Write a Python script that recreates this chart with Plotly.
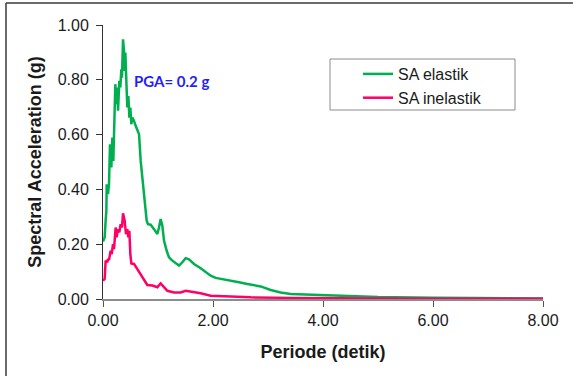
import plotly.graph_objects as go

# Periods (s) and spectral accelerations (g)
period_elastic = [0.000, 0.030, 0.048, 0.061, 0.067, 0.091, 0.109, 0.127, 0.152, 0.170, 0.188, 0.206,
                  0.224, 0.242, 0.261, 0.273, 0.297, 0.315, 0.333, 0.345, 0.364, 0.382, 0.394, 0.406,
                  0.424, 0.442, 0.461, 0.479, 0.497, 0.515, 0.533, 0.564, 0.594, 0.655, 0.685, 0.715,
                  0.745, 0.794, 0.818, 0.867, 0.927, 0.988, 1.018, 1.048, 1.079, 1.109, 1.158, 1.200,
                  1.261, 1.321, 1.382, 1.442, 1.503, 1.564, 1.655, 1.776, 1.867, 1.958, 2.048, 2.170,
                  2.321, 2.473, 2.624, 2.867, 3.048, 3.230, 3.412, 3.800, 4.000, 4.500, 5.000, 6.000,
                  7.000, 8.000]
sa_elastic = [0.210, 0.225, 0.286, 0.322, 0.419, 0.383, 0.419, 0.565, 0.480, 0.589, 0.504, 0.650,
              0.784, 0.711, 0.772, 0.687, 0.796, 0.772, 0.838, 0.808, 0.948, 0.905, 0.832, 0.899,
              0.772, 0.699, 0.741, 0.662, 0.699, 0.638, 0.662, 0.650, 0.632, 0.601, 0.504, 0.444,
              0.358, 0.286, 0.273, 0.271, 0.255, 0.237, 0.261, 0.292, 0.267, 0.213, 0.176, 0.152,
              0.140, 0.130, 0.122, 0.134, 0.149, 0.145, 0.128, 0.112, 0.097, 0.085, 0.077, 0.073,
              0.067, 0.061, 0.055, 0.046, 0.033, 0.024, 0.018, 0.015, 0.013, 0.010, 0.007, 0.005,
              0.003, 0.002]

period_inelastic = [0.000, 0.030, 0.048, 0.079, 0.091, 0.109, 0.139, 0.158, 0.182, 0.200, 0.230, 0.248,
                    0.273, 0.297, 0.321, 0.345, 0.364, 0.394, 0.418, 0.442, 0.461, 0.479, 0.497, 0.515,
                    0.564, 0.624, 0.685, 0.745, 0.806, 0.897, 0.988, 1.048, 1.109, 1.170, 1.291, 1.412,
                    1.503, 1.594, 1.776, 1.958, 2.321, 2.685, 3.412, 4.000, 5.000, 6.000, 8.000]
sa_inelastic = [0.067, 0.073, 0.140, 0.134, 0.146, 0.142, 0.176, 0.164, 0.200, 0.182, 0.261, 0.225,
                0.255, 0.243, 0.273, 0.261, 0.313, 0.286, 0.237, 0.255, 0.225, 0.249, 0.164, 0.130,
                0.128, 0.109, 0.091, 0.067, 0.051, 0.049, 0.043, 0.057, 0.043, 0.030, 0.024, 0.024,
                0.030, 0.027, 0.021, 0.012, 0.0085, 0.006, 0.004, 0.003, 0.002, 0.001, 0.001]

x_ticks = [0, 2, 4, 6, 8]
x_tick_labels = ["0.00", "2.00", "4.00", "6.00", "8.00"]
y_ticks = [0, 0.2, 0.4, 0.6, 0.8, 1.0]
y_tick_labels = ["0.00", "0.20", "0.40", "0.60", "0.80", "1.00"]

GREEN = "#00B050"
PINK = "#FF0066"
FONT = "Liberation Sans, Arial, sans-serif"

fig = go.Figure()
fig.add_trace(go.Scatter(x=period_elastic, y=sa_elastic, mode="lines", name="SA elastik",
                         line=dict(color=GREEN, width=2.5)))
fig.add_trace(go.Scatter(x=period_inelastic, y=sa_inelastic, mode="lines", name="SA inelastik",
                         line=dict(color=PINK, width=2.5)))

fig.update_layout(
    width=573, height=376,
    margin=dict(l=103, r=30, t=25, b=77),
    paper_bgcolor="white", plot_bgcolor="white",
    font=dict(family=FONT, color="#1a1a1a", size=16),
    showlegend=True,
    legend=dict(x=(358 - 103) / 440, y=(299 - 57) / 274, xanchor="left", yanchor="top",
                bgcolor="rgba(0,0,0,0)", borderwidth=0,
                font=dict(family=FONT, size=16, color="#1a1a1a"),
                tracegroupgap=0),
    xaxis=dict(range=[0, 8], tickvals=x_ticks, ticktext=x_tick_labels,
               showgrid=False, zeroline=False, showline=True, linecolor="#8c8c8c", linewidth=2,
               ticks="outside", ticklen=6, tickcolor="#555", tickwidth=1,
               tickfont=dict(size=16, family=FONT, color="#1a1a1a"),
               title=dict(text="<b>Periode (detik)</b>", font=dict(size=18, family=FONT, color="#1a1a1a"),
                          standoff=17)),
    yaxis=dict(range=[0, 1.0], tickvals=y_ticks, ticktext=y_tick_labels,
               showgrid=False, zeroline=False, showline=True, linecolor="#333", linewidth=1,
               ticks="outside", ticklen=6, tickcolor="#333", tickwidth=1,
               ticklabelstandoff=4,
               tickfont=dict(size=16, family=FONT, color="#1a1a1a"),
               title=dict(text="<b>Spectral Acceleration (g)</b>", font=dict(size=18, family=FONT, color="#1a1a1a"),
                          standoff=11)),
)

# legend box
fig.add_shape(type="rect", xref="paper", yref="paper",
              x0=(330 - 103) / 440, x1=(515 - 103) / 440,
              y0=(299 - 110) / 274, y1=(299 - 59) / 274,
              line=dict(color="#8c8c8c", width=1), fillcolor="rgba(0,0,0,0)")

# outer frame (top and left edges visible)
fig.add_shape(type="line", xref="paper", yref="paper",
              x0=(6 - 103) / 440, x1=(580 - 103) / 440, y0=(299 - 3) / 274, y1=(299 - 3) / 274,
              line=dict(color="#3a3a3a", width=1.5))
fig.add_shape(type="line", xref="paper", yref="paper",
              x0=(6 - 103) / 440, x1=(6 - 103) / 440, y0=(299 - 3) / 274, y1=(299 - 390) / 274,
              line=dict(color="#3a3a3a", width=1.5))

fig.add_annotation(x=(171 - 103) / 440, y=(299 - 81) / 274, xref="paper", yref="paper",
                   xanchor="center", yanchor="middle",
                   text="<b>PGA= 0.2 g</b>", showarrow=False,
                   font=dict(family="Lato, Liberation Sans, sans-serif", size=15, color="#1F1FFF"))

fig.write_html("out.html")
